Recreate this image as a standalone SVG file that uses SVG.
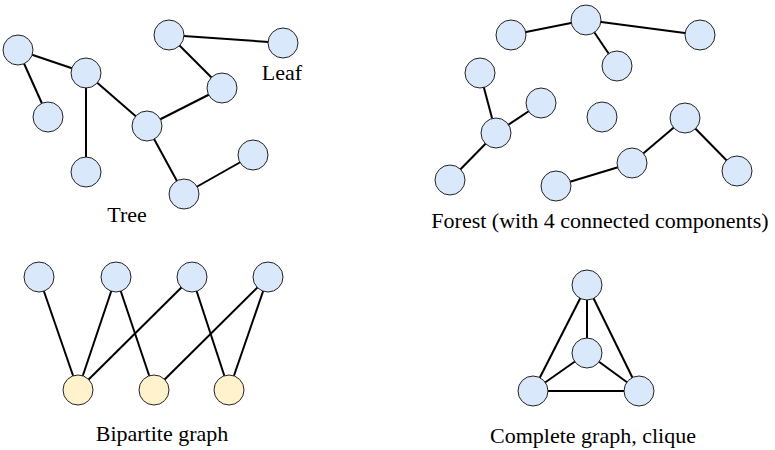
<svg xmlns="http://www.w3.org/2000/svg" width="775" height="450" viewBox="0 0 775 450">
<style>
.n{fill:#dae8fc;stroke:#222;stroke-width:1}
.y{fill:#fff2cc;stroke:#222;stroke-width:1}
.e line{stroke:#000;stroke-width:2}
text{font-family:"Liberation Serif","Times New Roman",serif;font-size:22px;fill:#000;text-anchor:middle}
</style>
<rect width="775" height="450" fill="#fff"/>
<g id="connectors" class="e">
<!-- tree -->
<line x1="18" y1="50" x2="86" y2="73"/>
<line x1="18" y1="50" x2="48" y2="117"/>
<line x1="86" y1="73" x2="86" y2="172"/>
<line x1="86" y1="73" x2="147" y2="126"/>
<line x1="147" y1="126" x2="222" y2="88"/>
<line x1="222" y1="88" x2="169" y2="35"/>
<line x1="169" y1="35" x2="283" y2="43"/>
<line x1="147" y1="126" x2="184" y2="194"/>
<line x1="184" y1="194" x2="253" y2="155"/>
<!-- forest -->
<line x1="511" y1="35" x2="586" y2="20"/>
<line x1="586" y1="20" x2="700" y2="35"/>
<line x1="586" y1="20" x2="617" y2="66"/>
<line x1="480" y1="73" x2="496" y2="133"/>
<line x1="541" y1="103" x2="496" y2="133"/>
<line x1="496" y1="133" x2="450" y2="180"/>
<line x1="556" y1="186" x2="632" y2="163"/>
<line x1="632" y1="163" x2="685" y2="118"/>
<line x1="685" y1="118" x2="737" y2="171"/>
<!-- bipartite -->
<line x1="39" y1="277" x2="78" y2="390"/>
<line x1="116" y1="277" x2="78" y2="390"/>
<line x1="116" y1="277" x2="154" y2="390"/>
<line x1="192" y1="277" x2="78" y2="390"/>
<line x1="192" y1="277" x2="229" y2="390"/>
<line x1="268" y1="277" x2="154" y2="390"/>
<line x1="268" y1="277" x2="229" y2="390"/>
<!-- complete -->
<line x1="587" y1="285" x2="587" y2="353"/>
<line x1="587" y1="285" x2="533" y2="391"/>
<line x1="587" y1="285" x2="639" y2="391"/>
<line x1="587" y1="353" x2="533" y2="391"/>
<line x1="587" y1="353" x2="639" y2="391"/>
<line x1="533" y1="391" x2="639" y2="391"/>
</g>
<g id="tree">
<g id="t1"><circle class="n" cx="18" cy="50" r="15"/></g>
<g id="t2"><circle class="n" cx="48" cy="117" r="15"/></g>
<g id="t3"><circle class="n" cx="86" cy="73" r="15"/></g>
<g id="t4"><circle class="n" cx="86" cy="172" r="15"/></g>
<g id="t5"><circle class="n" cx="147" cy="126" r="15"/></g>
<g id="t6"><circle class="n" cx="169" cy="35" r="15"/></g>
<g id="t7"><circle class="n" cx="283" cy="43" r="15"/></g>
<g id="t8"><circle class="n" cx="222" cy="88" r="15"/></g>
<g id="t9"><circle class="n" cx="253" cy="155" r="15"/></g>
<g id="t10"><circle class="n" cx="184" cy="194" r="15"/></g>
<text x="282" y="80">Leaf</text>
<text x="127" y="222">Tree</text>
</g>
<g id="forest">
<g id="f1"><circle class="n" cx="511" cy="35" r="15"/></g>
<g id="f2"><circle class="n" cx="586" cy="20" r="15"/></g>
<g id="f3"><circle class="n" cx="700" cy="35" r="15"/></g>
<g id="f4"><circle class="n" cx="617" cy="66" r="15"/></g>
<g id="f5"><circle class="n" cx="480" cy="73" r="15"/></g>
<g id="f6"><circle class="n" cx="541" cy="103" r="15"/></g>
<g id="f7"><circle class="n" cx="496" cy="133" r="15"/></g>
<g id="f8"><circle class="n" cx="450" cy="180" r="15"/></g>
<g id="f9"><circle class="n" cx="602" cy="117" r="15"/></g>
<g id="f10"><circle class="n" cx="685" cy="118" r="15"/></g>
<g id="f11"><circle class="n" cx="632" cy="163" r="15"/></g>
<g id="f12"><circle class="n" cx="556" cy="186" r="15"/></g>
<g id="f13"><circle class="n" cx="737" cy="171" r="15"/></g>
<text x="600" y="228">Forest (with 4 connected components)</text>
</g>
<g id="bipartite">
<g id="b1"><circle class="n" cx="39" cy="277" r="15"/></g>
<g id="b2"><circle class="n" cx="116" cy="277" r="15"/></g>
<g id="b3"><circle class="n" cx="192" cy="277" r="15"/></g>
<g id="b4"><circle class="n" cx="268" cy="277" r="15"/></g>
<g id="b5"><circle class="y" cx="78" cy="390" r="15"/></g>
<g id="b6"><circle class="y" cx="154" cy="390" r="15"/></g>
<g id="b7"><circle class="y" cx="229" cy="390" r="15"/></g>
<text x="162" y="441">Bipartite graph</text>
</g>
<g id="complete">
<g id="c1"><circle class="n" cx="587" cy="285" r="15"/></g>
<g id="c2"><circle class="n" cx="587" cy="353" r="15"/></g>
<g id="c3"><circle class="n" cx="533" cy="391" r="15"/></g>
<g id="c4"><circle class="n" cx="639" cy="391" r="15"/></g>
<text x="593" y="443">Complete graph, clique</text>
</g>
</svg>
